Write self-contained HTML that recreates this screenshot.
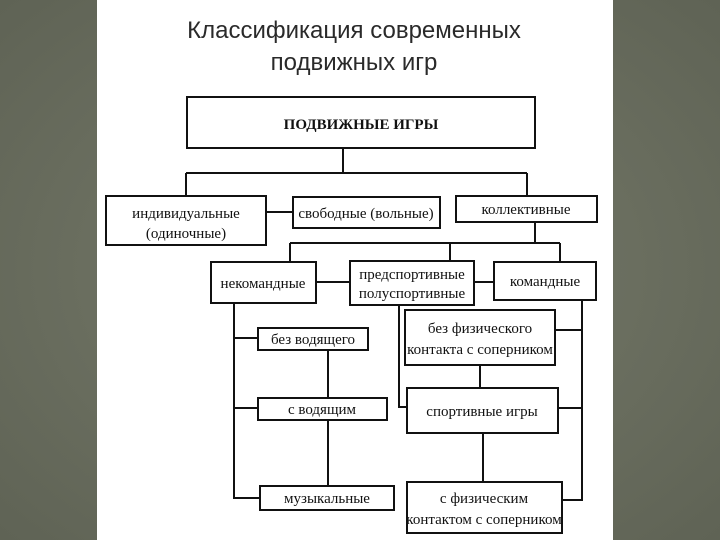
<!DOCTYPE html>
<html><head><meta charset="utf-8"><style>
html,body{margin:0;padding:0;width:720px;height:540px;overflow:hidden;background:#6e7263;}
svg{display:block}
.t{font-family:"Liberation Serif",serif;font-size:15px;fill:#111;text-anchor:middle}
.h{font-family:"Liberation Sans",sans-serif;font-size:24px;fill:#2a2a2a;text-anchor:middle}
</style></head><body>
<svg width="720" height="540" viewBox="0 0 720 540">
<defs><radialGradient id="g" cx="50%" cy="50%" r="70%"><stop offset="0" stop-color="#777b6b"/><stop offset="1" stop-color="#5f6355"/></radialGradient></defs>
<rect width="720" height="540" fill="url(#g)"/>
<rect x="97" y="0" width="516" height="540" fill="#fff"/>
<text class="h" x="354" y="38">Классификация современных</text>
<text class="h" x="354" y="70">подвижных игр</text>
<g fill="none" stroke="#111" stroke-width="2">
<rect x="187" y="97" width="348" height="51"/>
<path d="M343 148V173M186 173H527M186 173V196M527 173V196"/>
<rect x="106" y="196" width="160" height="49"/>
<rect x="293" y="197" width="147" height="31"/>
<rect x="456" y="196" width="141" height="26"/>
<path d="M266 212H293M535 222V243M290 243H560M290 243V262M450 243V261M560 243V262"/>
<rect x="211" y="262" width="105" height="41"/>
<rect x="350" y="261" width="124" height="44"/>
<rect x="494" y="262" width="102" height="38"/>
<path d="M316 282H350M474 282H494"/>
<path d="M234 303V498H260M234 338H258M234 408H258M328 350V398M328 420V485"/>
<rect x="258" y="328" width="110" height="22"/>
<rect x="258" y="398" width="129" height="22"/>
<rect x="260" y="486" width="134" height="24"/>
<path d="M399 305V407H407M582 300V500H562M555 330H582M558 408H582M480 365V388M483 433V482"/>
<rect x="405" y="310" width="150" height="55"/>
<rect x="407" y="388" width="151" height="45"/>
<rect x="407" y="482" width="155" height="51"/>
</g>
<text class="t" x="361" y="129" style="font-weight:bold;font-size:15px">ПОДВИЖНЫЕ ИГРЫ</text>
<text class="t" x="186" y="218">индивидуальные</text>
<text class="t" x="186" y="238">(одиночные)</text>
<text class="t" x="366" y="218">свободные (вольные)</text>
<text class="t" x="526" y="214">коллективные</text>
<text class="t" x="263" y="288">некомандные</text>
<text class="t" x="412" y="279">предспортивные</text>
<text class="t" x="412" y="298">полуспортивные</text>
<text class="t" x="545" y="286">командные</text>
<text class="t" x="313" y="344">без водящего</text>
<text class="t" x="322" y="414">с водящим</text>
<text class="t" x="327" y="503">музыкальные</text>
<text class="t" x="480" y="333">без физического</text>
<text class="t" x="480" y="354">контакта с соперником</text>
<text class="t" x="482" y="416">спортивные игры</text>
<text class="t" x="484" y="503">с физическим</text>
<text class="t" x="484" y="524">контактом с соперником</text>
</svg>
</body></html>
